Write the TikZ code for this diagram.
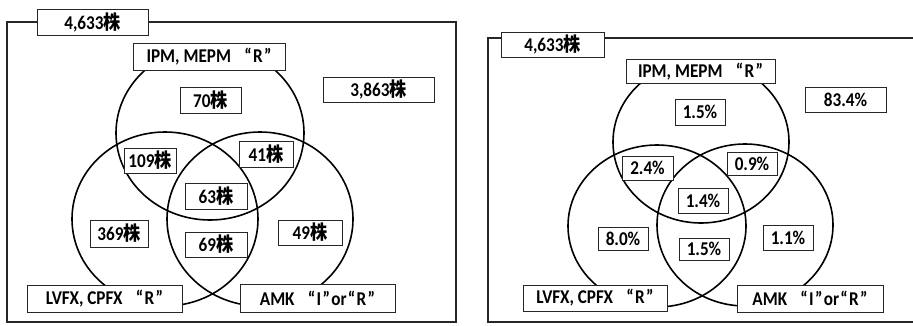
\documentclass[tikz,border=0pt]{standalone}
\usepackage{fontspec}
\setmainfont{Carlito}[FakeStretch=0.88]
\newfontfamily\cjk{Noto Sans CJK JP}[FakeStretch=0.88]
\newcommand\kabu{{\cjk 株}}
\newcommand\myoq{\hspace{1.3pt}“\hspace{1.3pt}}
\newcommand\mycq{\hspace{1.3pt}”\hspace{1.3pt}}
\newcommand\mygap{\hspace{12pt}}
\begin{document}
\begin{tikzpicture}[x=1pt,y=-1pt,
  lab/.style={draw=black!85, line width=0.9pt, fill=white, inner sep=0pt,
    font=\fontsize{19.5}{19.5}\selectfont\bfseries},
  ring/.style={line width=1.6pt, draw=black},
  frame/.style={line width=1.1pt, draw=black!85}]
\useasboundingbox (0,0) rectangle (913,325);
\fill[white] (0,0) rectangle (913,325);

% ---------------- left panel ----------------
\draw[frame] (7,22) rectangle (456,322);
\draw[ring] (210,133) ellipse [x radius=94pt, y radius=87pt];
\draw[ring] (165,219) ellipse [x radius=93pt, y radius=87pt];
\draw[ring] (260,219) ellipse [x radius=93pt, y radius=87pt];

\node[lab, minimum width=111pt, minimum height=26pt] (ta) at (92.5,22) {4,633\kabu};
\node[lab, minimum width=152pt, minimum height=27pt] (ipma) at (209,56.5) {IPM, MEPM\mygap\myoq R\mycq};
\node[lab, minimum width=61pt, minimum height=26pt] (a70) at (210.5,100) {70\kabu};
\node[lab, minimum width=111pt, minimum height=25pt] (a3863) at (378.5,89.5) {3,863\kabu};
\node[lab, minimum width=52pt, minimum height=25pt] (a109) at (150,160.5) {109\kabu};
\node[lab, minimum width=54pt, minimum height=26pt] (a41) at (266,154) {41\kabu};
\node[lab, minimum width=62pt, minimum height=26pt] (a63) at (216,196) {63\kabu};
\node[lab, minimum width=58pt, minimum height=27pt] (a369) at (119,233.5) {369\kabu};
\node[lab, minimum width=62pt, minimum height=25pt] (a69) at (216,244.5) {69\kabu};
\node[lab, minimum width=64pt, minimum height=25pt] (a49) at (310,232.5) {49\kabu};
\node[lab, minimum width=155pt, minimum height=27pt] (lvfxa) at (104.5,298.5) {LVFX, CPFX\mygap\myoq R\mycq};
\node[lab, minimum width=155pt, minimum height=28pt] (amka) at (317.5,298) {AMK\mygap\myoq I\mycq or\myoq R\mycq};

% ---------------- right panel ----------------
\draw[frame] (914,38) -- (488,38) -- (488,322) -- (914,322);
\draw[ring] (701,142) ellipse [x radius=88pt, y radius=81pt];
\draw[ring] (657,226) ellipse [x radius=89pt, y radius=81pt];
\draw[ring] (745,225) ellipse [x radius=88pt, y radius=81pt];

\node[lab, minimum width=103pt, minimum height=25pt] (tb) at (552.5,44.5) {4,633\kabu};
\node[lab, minimum width=149pt, minimum height=24pt] (ipmb) at (700.5,71.5) {IPM, MEPM\mygap\myoq R\mycq};
\node[lab, minimum width=50pt, minimum height=26pt] (b15a) at (700,112) {1.5\%};
\node[lab, minimum width=81pt, minimum height=25pt] (b834) at (845.5,99.5) {83.4\%};
\node[lab, minimum width=51pt, minimum height=24pt] (b24) at (647.5,168) {2.4\%};
\node[lab, minimum width=50pt, minimum height=23pt] (b09) at (752,163.5) {0.9\%};
\node[lab, minimum width=50pt, minimum height=25pt] (b14) at (703,200.5) {1.4\%};
\node[lab, minimum width=50pt, minimum height=23pt] (b80) at (623,238.5) {8.0\%};
\node[lab, minimum width=50pt, minimum height=22pt] (b15b) at (704,249) {1.5\%};
\node[lab, minimum width=50pt, minimum height=25pt] (b11) at (788,237.5) {1.1\%};
\node[lab, minimum width=144pt, minimum height=26pt] (lvfxb) at (595,298) {LVFX, CPFX\mygap\myoq R\mycq};
\node[lab, minimum width=146pt, minimum height=27pt] (amkb) at (810,298.5) {AMK\mygap\myoq I\mycq or\myoq R\mycq};
\end{tikzpicture}
\end{document}
